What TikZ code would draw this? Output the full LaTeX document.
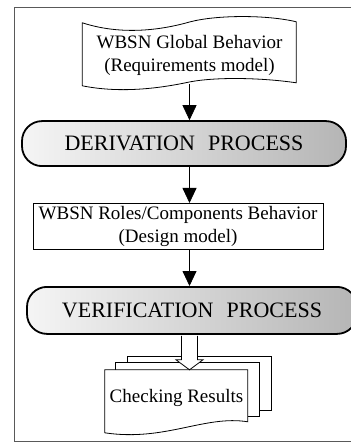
\documentclass[tikz,border=0pt]{standalone}
\usepackage{fontspec}
\setmainfont{Liberation Serif}
\usepackage{tikz}
\usetikzlibrary{calc, positioning, arrows.meta}
\newcommand{\bodysize}{\fontsize{19}{23}\selectfont}
\newcommand{\procsize}{\fontsize{22}{26}\selectfont}
\tikzset{
    process/.style={rectangle, rounded corners=20pt, draw=black, line width=1.8pt, left color=gray!8, right color=gray!58, minimum height=45pt, align=center, font=\procsize},
    block/.style={rectangle, draw=black, line width=1pt, fill=white, align=center, minimum height=46pt, inner sep=2pt, font=\bodysize},
    doc/.style={rectangle, align=center, inner sep=0pt, font=\bodysize},
    outline/.style={draw=black, line width=0.8pt, fill=white},
    arrow/.style={-{Triangle[width=14pt, length=15pt]}, line width=0.8pt},
    frame/.style={draw=black!65, line width=0.9pt}
}

\begin{document}
\begin{tikzpicture}[x=1pt, y=-1pt]
    \useasboundingbox (0,0) rectangle (350,443);
    % Frame
    \draw[frame] (352,7) -- (14,7) -- (14,441) -- (352,441);

    % Nodes
    \node[doc, minimum width=214pt, minimum height=62pt] (req) at (189.5,53) {};
    \begin{scope}[shift={(req.north west)}]
        \draw[outline] (0,1) .. controls (40,14) and (80,8) .. (108,0) .. controls (135,-7) and (185,-7) .. (214,0)
            -- (214,61) .. controls (180,56) and (135,55) .. (108,60) .. controls (80,66) and (40,72) .. (0,64) -- cycle;
    \end{scope}
    \node[doc] at (req.center) [yshift=-2pt] {WBSN Global Behavior\\(Requirements model)};

    \node[process, minimum width=324pt, below=36pt of req, xshift=-5.5pt] (derive) {DERIVATION\hspace{0.6em}PROCESS};
    \node[block, minimum width=290pt, below=36pt of derive, xshift=-6pt] (design) {WBSN Roles/Components Behavior\\(Design model)};
    \node[process, minimum width=330pt, minimum height=47pt, below=36pt of design, xshift=14pt] (verify) {VERIFICATION\hspace{0.6em}PROCESS};

    \node[doc, minimum width=143pt, minimum height=55pt, below=35pt of verify, xshift=-15.5pt] (results) {};
    \begin{scope}[shift={(results.north west)}]
        \draw[outline] (23,-7) -- (23,-13) -- (167,-13) -- (167,41) -- (155,41);
        \draw[outline] (11,0) -- (11,-7) -- (155,-7) -- (155,47) -- (143,47);
        \draw[outline] (0,0) -- (143,0) -- (143,52) .. controls (100,45) and (60,72) .. (0,63) -- cycle;
    \end{scope}
    \node[doc] at (results.center) {Checking Results};

    % Edges
    \draw[arrow] (req.south) -- (req.south |- derive.north);
    \draw[arrow] (req.south |- derive.south) -- (req.south |- design.north);
    \draw[arrow] (req.south |- design.south) -- (req.south |- verify.north);
    \coordinate (from) at ($(req.south |- verify.south)+(0,1)$);
    \coordinate (to) at (req.south |- results.north);
    \draw[outline] ($(from)+(-8,0)$) -- ($(to)+(-8,-10)$) -- ($(to)+(-13.5,-10)$) -- (to)
        -- ($(to)+(13.5,-10)$) -- ($(to)+(8,-10)$) -- ($(from)+(8,0)$);
\end{tikzpicture}
\end{document}
